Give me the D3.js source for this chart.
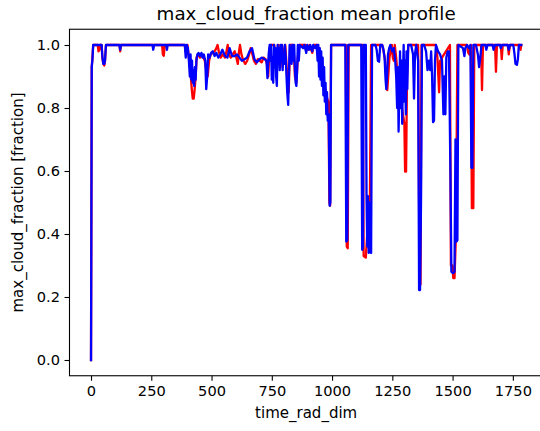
<!DOCTYPE html>
<html><head><meta charset="utf-8">
<script src="https://cdn.jsdelivr.net/npm/d3@7"></script>
<style>
body{margin:0;background:#fff}
svg{display:block}
text{font-family:"DejaVu Sans",sans-serif;fill:#000}
</style>
</head><body>
<svg id="chart" width="540" height="431"></svg>
<script>
const titleText = "max_cloud_fraction mean profile";
const xLabelText = "time_rad_dim";
const yLabelText = "max_cloud_fraction [fraction]";
const xTicks = [0, 250, 500, 750, 1000, 1250, 1500, 1750];
const xTickLabels = ["0", "250", "500", "750", "1000", "1250", "1500", "1750"];
const yTicks = [0, 0.2, 0.4, 0.6, 0.8, 1.0];
const yTickLabels = ["0.0", "0.2", "0.4", "0.6", "0.8", "1.0"];

// series 2 (red)
const redX = [0,3,6,9,28,31,35,38,44,47,51,55,58,62,118,121,124,295,298,302,306,389,395,400,406,412,418,422,426,430,434,438,444,452,460,466,472,478,484,490,496,505,513,520,525,530,538,546,556,562,567,572,580,588,596,603,609,614,618,624,632,640,648,656,662,668,676,684,692,700,708,716,724,730,735,740,744,760,770,778,786,792,800,806,814,820,826,840,846,852,858,864,890,900,906,918,924,940,948,956,964,972,980,985,989,992,996,1057,1061,1065,1069,1127,1131,1140,1146,1150,1156,1162,1208,1214,1220,1226,1229,1233,1238,1248,1252,1256,1260,1266,1272,1280,1290,1300,1303,1307,1311,1316,1357,1361,1363,1367,1371,1431,1437,1441,1444,1448,1452,1456,1489,1493,1499,1503,1508,1514,1520,1560,1565,1570,1576,1580,1586,1590,1618,1622,1626,1676,1680,1684,1700,1704,1708,1729,1733,1738,1778,1782,1785];
const redY = [0.0,0.93,0.96,1.0,1.0,0.98,0.985,1.0,1.0,0.96,0.94,0.935,0.95,1.0,1.0,0.98,1.0,1.0,0.97,0.966,1.0,1.0,0.97,1.0,0.96,0.92,0.86,0.83,0.83,0.86,0.9,0.96,0.97,0.96,0.97,0.96,0.95,0.92,0.9,0.95,0.97,0.975,0.98,0.99,1.0,0.98,0.96,0.97,0.96,0.98,1.0,0.97,0.96,0.97,0.98,0.96,0.94,0.98,1.0,0.97,0.95,0.94,0.95,0.97,0.99,0.975,0.95,0.94,0.955,0.95,0.945,0.96,0.955,0.94,0.9,0.98,1.0,1.0,0.95,1.0,0.93,1.0,0.96,1.0,0.9,0.85,1.0,1.0,0.9,0.88,0.96,1.0,1.0,0.985,1.0,0.975,1.0,1.0,0.93,0.9,0.88,0.86,0.83,0.82,0.5,0.49,1.0,1.0,0.36,0.355,1.0,1.0,0.33,0.325,0.4,0.45,0.4,1.0,1.0,0.98,0.95,0.88,0.857,0.9,0.96,1.0,0.96,0.95,1.0,0.96,0.9,0.85,0.8,0.75,0.598,0.598,0.9,1.0,1.0,0.5,0.24,0.24,1.0,1.0,0.96,0.9,0.85,0.95,0.93,0.96,1.0,0.30,0.30,0.26,0.26,0.4,1.0,1.0,0.975,0.97,1.0,0.482,0.482,1.0,1.0,0.857,1.0,1.0,0.915,1.0,1.0,0.955,1.0,1.0,0.97,1.0,1.0,0.985,1.0];

// series 1 (blue)
const blueX = [0,3,6,9,44,47,51,55,58,62,118,121,124,255,258,262,312,315,318,389,393,397,402,406,410,413,416,419,422,425,428,431,434,437,441,446,452,458,463,468,474,478,482,486,492,498,505,513,520,528,536,545,556,566,575,585,596,606,616,626,637,647,658,668,678,688,699,710,720,728,732,737,741,744,747,750,753,756,759,762,765,768,771,774,777,780,783,786,789,792,795,798,801,804,808,811,814,818,821,824,828,832,835,839,843,846,849,852,855,858,862,866,880,885,893,897,905,910,918,922,930,936,940,943,946,949,952,955,958,961,964,967,970,973,976,979,982,986,990,993,996,1055,1059,1063,1067,1121,1125,1128,1131,1140,1143,1146,1149,1152,1155,1158,1162,1166,1180,1185,1190,1195,1200,1208,1212,1218,1222,1225,1228,1232,1237,1242,1250,1256,1262,1266,1270,1273,1276,1279,1282,1285,1288,1291,1294,1297,1300,1303,1306,1309,1312,1316,1328,1336,1340,1344,1349,1357,1361,1365,1369,1373,1382,1390,1396,1402,1407,1411,1415,1419,1423,1427,1431,1440,1448,1456,1462,1466,1470,1474,1480,1485,1491,1495,1502,1508,1512,1516,1520,1524,1543,1549,1553,1560,1568,1574,1578,1582,1586,1597,1605,1610,1615,1620,1636,1640,1645,1666,1670,1676,1697,1700,1705,1729,1733,1738,1752,1757,1761,1767,1771,1775,1785];
const blueY = [0.0,0.93,0.955,1.0,1.0,0.965,0.94,0.94,0.95,1.0,1.0,0.985,1.0,1.0,0.985,1.0,1.0,0.985,1.0,1.0,0.96,1.0,0.99,0.95,0.9,0.97,0.89,0.95,0.88,0.92,0.87,0.93,0.89,0.95,0.97,0.975,0.965,0.975,0.96,0.97,0.95,0.86,0.9,0.97,0.96,0.975,0.98,0.965,0.975,0.96,0.97,0.985,0.965,0.96,0.99,0.965,0.965,0.97,0.96,0.95,0.955,0.96,0.98,0.99,0.955,0.945,0.955,0.96,0.955,0.95,0.895,0.97,1.0,0.95,1.0,0.89,0.96,0.88,1.0,0.93,0.99,0.9,0.87,1.0,0.94,0.99,0.92,1.0,0.95,1.0,0.92,0.97,0.94,1.0,0.96,0.9,0.85,0.81,0.9,1.0,0.97,0.94,1.0,0.95,1.0,0.92,0.88,0.87,0.92,1.0,0.95,1.0,0.99,1.0,0.975,1.0,0.985,1.0,0.98,1.0,0.99,1.0,0.95,1.0,0.9,0.99,0.89,0.98,0.87,0.96,0.84,0.93,0.82,0.88,0.78,0.85,0.76,0.78,0.49,0.5,1.0,1.0,0.376,0.38,1.0,1.0,0.35,0.36,1.0,1.0,0.52,0.36,0.52,0.34,0.5,0.35,0.34,1.0,1.0,0.985,0.95,0.947,1.0,1.0,0.99,0.96,0.89,0.86,0.9,0.97,0.99,1.0,0.98,0.99,0.95,0.9,0.8,0.93,0.725,0.85,0.98,0.8,0.95,0.75,0.9,1.0,0.82,0.95,0.78,0.98,0.86,1.0,1.0,0.97,0.83,0.97,1.0,0.95,0.222,0.222,0.5,1.0,1.0,0.98,0.92,0.95,0.92,0.98,0.9,0.755,0.76,0.95,1.0,0.98,0.97,0.95,0.78,0.9,0.78,0.96,0.98,0.98,0.6,0.28,0.276,0.28,0.7,0.376,0.38,1.0,0.99,0.965,0.99,1.0,0.99,1.0,0.61,0.61,1.0,1.0,0.97,0.93,0.96,1.0,1.0,0.985,1.0,1.0,0.985,1.0,1.0,0.99,1.0,1.0,0.985,1.0,1.0,0.97,0.94,0.937,0.955,1.0,1.0];

const series = [
  {name: "red", color: "#ff0000", xs: redX, ys: redY},
  {name: "blue", color: "#0000ff", xs: blueX, ys: blueY}
];

const W = 540, H = 431;
const plot = {left: 69.5, top: 29.25, right: 542.8, bottom: 375.75};
const xMaxData = d3.max(blueX);
const x = d3.scaleLinear().domain([-0.05 * xMaxData, 1.05 * xMaxData]).range([plot.left, plot.right]);
const y = d3.scaleLinear().domain([-0.05, 1.05]).range([plot.bottom, plot.top]);

const svg = d3.select("#chart");
svg.append("rect").attr("width", W).attr("height", H).attr("fill", "#fff");

const line = d3.line().x(d => x(d[0])).y(d => y(d[1])).curve(d3.curveLinear);
series.forEach(s => {
  const pts = s.xs.map((v, i) => [v, s.ys[i]]);
  svg.append("path").datum(pts)
    .attr("d", line)
    .attr("fill", "none")
    .attr("stroke", s.color)
    .attr("stroke-width", 2.3)
    .attr("stroke-linejoin", "round")
    .attr("stroke-linecap", "square");
});

// spines
svg.append("rect")
  .attr("x", plot.left).attr("y", plot.top)
  .attr("width", plot.right - plot.left).attr("height", plot.bottom - plot.top)
  .attr("fill", "none").attr("stroke", "#000").attr("stroke-width", 1.1);

const tickFont = 14.6;
const xAxis = d3.axisBottom(x).tickValues(xTicks)
  .tickFormat((d, i) => xTickLabels[i]).tickSize(5).tickSizeOuter(0).tickPadding(4.5);
const gx = svg.append("g").attr("transform", `translate(0,${plot.bottom})`).call(xAxis);
gx.select(".domain").remove();
gx.selectAll("line").attr("stroke", "#000").attr("stroke-width", 1.1);
gx.selectAll("text").attr("font-size", tickFont).attr("font-family", "DejaVu Sans").attr("fill", "#000");

const yAxis = d3.axisLeft(y).tickValues(yTicks)
  .tickFormat((d, i) => yTickLabels[i]).tickSize(5).tickSizeOuter(0).tickPadding(4.5);
const gy = svg.append("g").attr("transform", `translate(${plot.left},0)`).call(yAxis);
gy.select(".domain").remove();
gy.selectAll("line").attr("stroke", "#000").attr("stroke-width", 1.1);
gy.selectAll("text").attr("font-size", tickFont).attr("font-family", "DejaVu Sans").attr("fill", "#000");

const cx = (plot.left + plot.right) / 2;
svg.append("text").attr("x", cx).attr("y", 20).attr("text-anchor", "middle")
  .attr("font-size", 18.3).text(titleText);
svg.append("text").attr("x", cx).attr("y", 418).attr("text-anchor", "middle")
  .attr("font-size", 15).text(xLabelText);
svg.append("text").attr("transform", `translate(23,${(plot.top + plot.bottom) / 2}) rotate(-90)`)
  .attr("text-anchor", "middle").attr("font-size", 15).text(yLabelText);
</script>
</body></html>
